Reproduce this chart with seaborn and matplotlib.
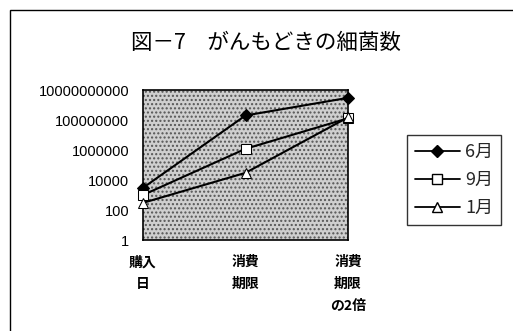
import matplotlib
matplotlib.use("Agg")
import matplotlib.pyplot as plt
from matplotlib.patches import Rectangle
from matplotlib.lines import Line2D
import seaborn as sns
import pandas as pd

sns.set_theme(style="white")
plt.rcParams['font.family'] = ['Noto Sans CJK JP', 'DejaVu Sans']

# Bacteria counts at each sampling stage
stages = ["購入\n日", "消費\n期限", "消費\n期限\nの2倍"]
months = ["6月", "9月", "1月"]
june = [3000, 2e8, 3e9]
september = [1000, 1.2e6, 1.3e8]
january = [300, 3e4, 1.5e8]
y_ticks = [1, 100, 10000, 1000000, 100000000, 10000000000]
y_tick_labels = ["1", "100", "10000", "1000000", "100000000", "10000000000"]

df = pd.DataFrame({
    "stage": list(range(len(stages))) * 3,
    "count": june + september + january,
    "month": [months[0]] * 3 + [months[1]] * 3 + [months[2]] * 3,
})

fig = plt.figure(figsize=(5.13, 3.31), dpi=100)
fig.patch.set_facecolor("white")

# outer chart frame
fig.add_artist(Rectangle((10 / 513, -0.05), 1.2, 1 - 10 / 331 + 0.05,
                         transform=fig.transFigure, fill=False,
                         edgecolor="black", linewidth=1.0))

ax = fig.add_axes([143 / 513, 1 - 240 / 331, 205 / 513, 150 / 331])
ax.set_facecolor("#cfcfcf")
ax.add_patch(Rectangle((0, 0), 1, 1, transform=ax.transAxes, facecolor="none",
                       edgecolor="#555555", hatch="....", linewidth=0, zorder=0.5))

markers = {"6月": "D", "9月": "s", "1月": "^"}
sns.lineplot(data=df, x="stage", y="count", hue="month", style="month",
             hue_order=months, style_order=months,
             palette=["black"] * 3, markers=markers, dashes=False,
             markersize=7, linewidth=1.5, legend=False, ax=ax)

faces = {"6月": "black", "9月": "white", "1月": "white"}
for line, m in zip(ax.get_lines(), months):
    line.set_markerfacecolor(faces[m])
    line.set_markeredgecolor("black")
    line.set_clip_on(False)
    line.set_zorder(5)
    if m == "6月":
        line.set_markersize(6)

ax.set_yscale("log")
ax.set_ylim(1, 1e10)
ax.set_xlim(0, 2)
ax.set_yticks(y_ticks)
ax.set_yticklabels(y_tick_labels, family=["Liberation Sans", "DejaVu Sans"])
ax.minorticks_off()
ax.set_xticks(range(len(stages)))
ax.set_xticklabels(stages, fontweight="bold", linespacing=1.7)
ax.tick_params(axis="y", length=0, pad=10, labelsize=10.5, colors="black")
ax.tick_params(axis="x", length=0, pad=11, labelsize=10, colors="black")
ax.set_xlabel("")
ax.set_ylabel("")
for s in ax.spines.values():
    s.set_color("black")
    s.set_linewidth(1.2)

fig.text(266 / 513, 1 - 43 / 331, "図－7　がんもどきの細菌数",
         ha="center", va="center", fontsize=15.5, color="black")

handles = [Line2D([], [], color="black", linewidth=1.3, marker=markers[m],
                  markerfacecolor=faces[m], markeredgecolor="black",
                  markersize=7 if m != "6月" else 6) for m in months]
leg = fig.legend(handles, months, loc="center", bbox_to_anchor=(454 / 513, 1 - 180 / 331),
                 frameon=True, fontsize=13, handlelength=2.5, handletextpad=0.3,
                 borderpad=0.45, labelspacing=0.55, fancybox=False,
                 borderaxespad=0)
leg.get_frame().set_edgecolor("black")
leg.get_frame().set_linewidth(1.0)

fig.savefig("out.png", dpi=100)
